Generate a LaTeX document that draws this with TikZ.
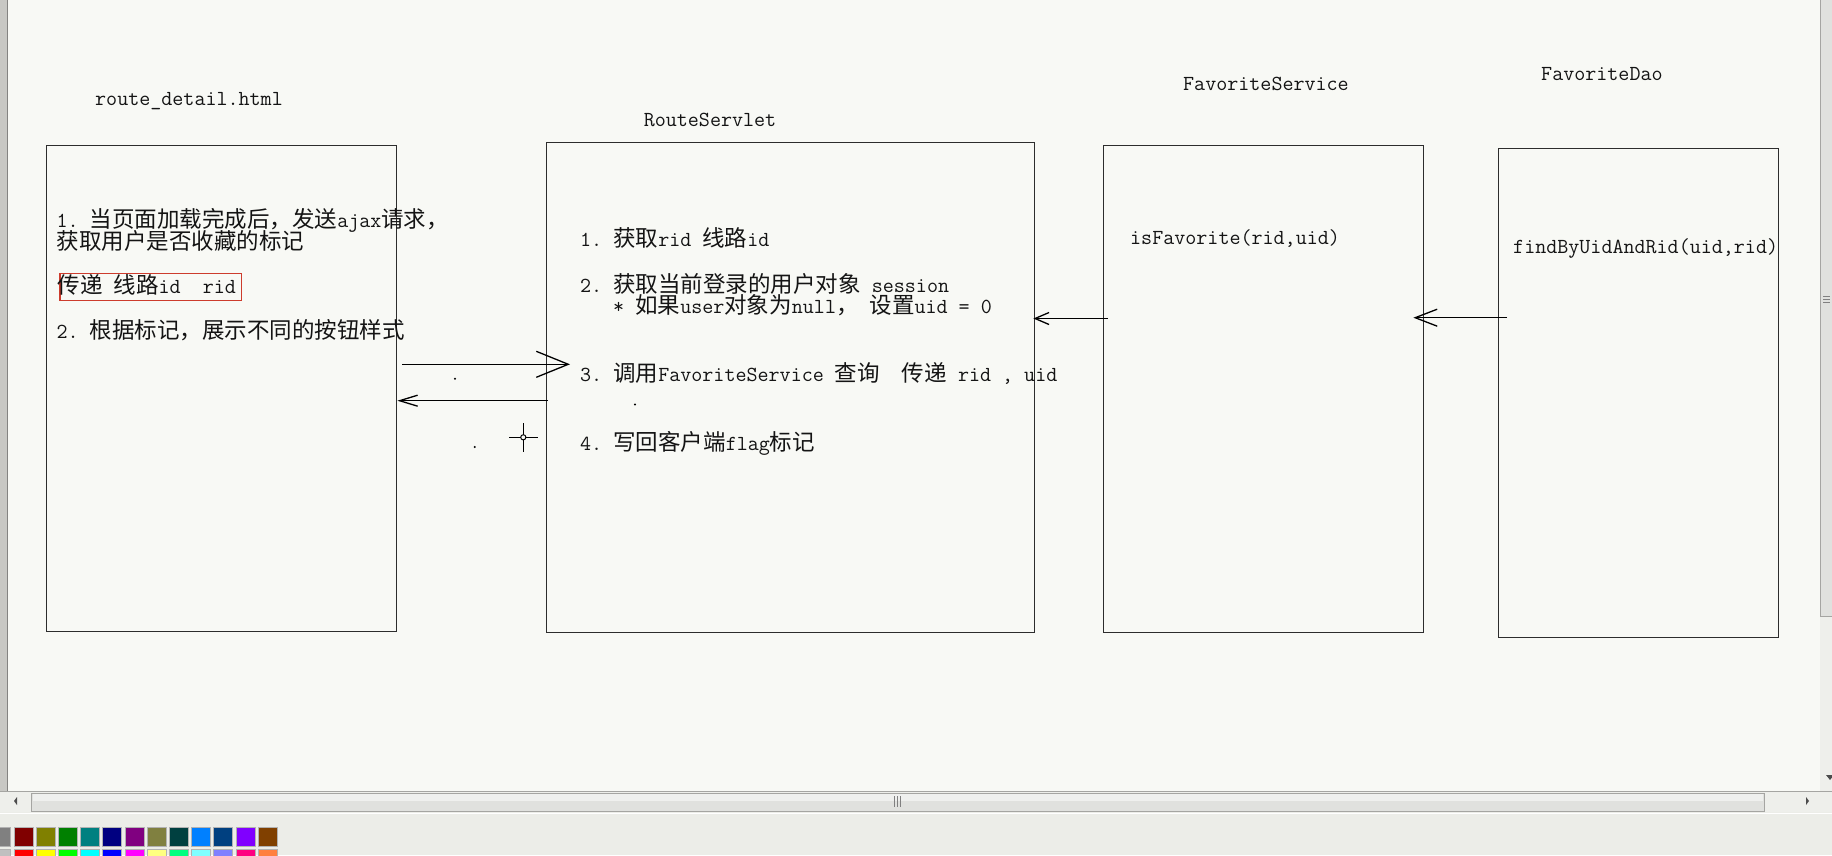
\documentclass[tikz,border=0pt]{standalone}
\usepackage{fontspec}
\newfontfamily\cjk{Noto Sans CJK SC}
\usetikzlibrary{arrows.meta,calc}
\frenchspacing
\newcommand\zh[1]{{\fontsize{22.5}{26}\selectfont\cjk #1}}
\definecolor{canvas}{RGB}{248,249,245}
\definecolor{boxc}{RGB}{45,45,45}
\definecolor{redc}{RGB}{205,60,45}
\definecolor{band}{RGB}{236,237,232}
\definecolor{track}{RGB}{238,239,235}
\definecolor{thumb}{RGB}{224,225,222}
\definecolor{edge}{RGB}{165,165,162}
\definecolor{lborder}{RGB}{200,200,196}
\definecolor{inkc}{RGB}{20,20,20}
\begin{document}
\begin{tikzpicture}[x=1pt,y=-1pt,
  box/.style={draw=boxc, line width=1.4pt, anchor=north west, inner sep=0pt},
  lbl/.style={anchor=base west, inner sep=0pt, text=inkc, font=\fontsize{21.43}{24}\selectfont\ttfamily},
  arr/.style={line width=1.3pt, draw=black}]
\useasboundingbox (0,0) rectangle (1832,855);
\fill[canvas] (0,0) rectangle (1832,855);

% ---- window chrome ----
\fill[lborder] (0,0) rectangle (8,791);
\draw[line width=1.4pt, edge!80!black] (7.5,0) -- (7.5,791);
% vertical scrollbar
\fill[track] (1820,0) rectangle (1832,791);
\filldraw[fill=thumb, draw=edge, line width=0.8pt] (1820.5,-2) rectangle (1834,616);
\draw[line width=0.7pt, gray] (1823,296) -- (1830,296) (1823,299) -- (1830,299) (1823,302) -- (1830,302);
\fill[black!70] (1826,775) -- (1834,775) -- (1830,780) -- cycle;
% horizontal scrollbar
\fill[track] (0,791) rectangle (1832,812);
\draw[line width=0.8pt, edge] (0,791) -- (1832,791);
\filldraw[fill=thumb, draw=edge, line width=0.9pt] (31.5,793) rectangle (1764,811);
\fill[white, opacity=0.5] (32.5,794) rectangle (1763,801);
\draw[line width=0.7pt, gray] (894,796) -- (894,807) (897,796) -- (897,807) (900,796) -- (900,807);
\fill[black!70] (17,797) -- (17,805) -- (14,801) -- cycle;
\fill[black!70] (1806,797) -- (1806,805) -- (1809,801) -- cycle;
% bottom band and palette
\fill[band] (0,812) rectangle (1832,855);
\draw[line width=0.8pt, white] (0,813) -- (1832,813);
\foreach \i/\xa/\xb/\xc/\ya/\yb/\yc in {0/128/128/128/192/192/192, 1/128/0/0/255/0/0,
  2/128/128/0/255/255/0, 3/0/128/0/0/255/0, 4/0/128/128/0/255/255, 5/0/0/128/0/0/255,
  6/128/0/128/255/0/255, 7/128/128/64/255/255/128, 8/0/64/64/0/255/128,
  9/0/128/255/128/255/255, 10/0/64/128/128/128/255, 11/128/0/255/255/0/128,
  12/128/64/0/255/128/64}{
  \definecolor{pa}{RGB}{\xa,\xb,\xc}
  \definecolor{pb}{RGB}{\ya,\yb,\yc}
  \filldraw[fill=pa, draw=gray!60, line width=0.8pt] ({-8.2+\i*22.2},827) rectangle ++(19,19);
  \filldraw[fill=pb, draw=gray!60, line width=0.8pt] ({-8.2+\i*22.2},849) rectangle ++(19,9);
}

% ---- boxes ----
\node[box, minimum width=350.5pt, minimum height=486pt] (page) at (45.5,145) {};
\node[box, minimum width=488pt, minimum height=490pt] (servlet) at (546,142) {};
\node[box, minimum width=320pt, minimum height=487pt] (service) at (1103,145) {};
\node[box, minimum width=280pt, minimum height=489pt] (dao) at (1498,148) {};

% ---- titles ----
\node[lbl] (tpage) at (95,105) {route\_detail.html};
\node[lbl] (tservlet) at (643.6,126) {RouteServlet};
\node[lbl] (tservice) at (1183,90.7) {FavoriteService};
\node[lbl] (tdao) at (1541,80) {FavoriteDao};

% ---- page texts ----
\node[lbl] (p1) at (56.5,227) {1. \zh{当页面加载完成后，发送}ajax\zh{请求，}};
\node[lbl] (p2) at (56.5,249.5) {\zh{获取用户是否收藏的标记}};
\node[draw=redc, line width=1.3pt, anchor=north west, inner sep=0pt,
      minimum width=181.7pt, minimum height=27.3pt] (hl) at (59.3,272.7) {};
\node[lbl] (p3) at (57.4,293) {\zh{传递} \zh{线路}id~~rid};
\node[lbl] (p4) at (56.5,338.3) {2. \zh{根据标记，展示不同的按钮样式}};

% ---- servlet texts ----
\node[lbl] (s1) at (580,246.7) {1. \zh{获取}rid \zh{线路}id};
\node[lbl] (s2) at (580,292.7) {2. \zh{获取当前登录的用户对象} session};
\node[lbl] (s2b) at (613,313.3) {* \zh{如果}user\zh{对象为}null\zh{，} \zh{设置}uid = 0};
\node[lbl] (s3) at (580,381.7) {3. \zh{调用}FavoriteService \zh{查询}~~\zh{传递} rid , uid};
\node[lbl] (s4) at (580,450) {4. \zh{写回客户端}flag\zh{标记}};

% ---- service / dao texts ----
\node[lbl] (f1) at (1130,244) {isFavorite(rid,uid)};
\node[lbl] (d1) at (1513,253) {findByUidAndRid(uid,rid)};

% ---- connectors ----
\coordinate (ya) at (0,364.3);
\coordinate (yb) at (0,400.7);
\coordinate (yc) at (0,318.5);
\coordinate (yd) at (0,317.7);
\draw[arr, -{Straight Barb[length=32pt,width=26pt]}]
  ($(page.east|-ya)+(5,0)$) -- ($(servlet.west|-ya)+(24,0)$);
\draw[arr, -{Straight Barb[length=18pt,width=11pt]}]
  ($(servlet.west|-yb)+(2,0)$) -- (page.east|-yb);
\draw[arr, -{Straight Barb[length=14pt,width=12pt]}]
  ($(service.west|-yc)+(5,0)$) -- ($(servlet.east|-yc)+(-2,0)$);
\draw[arr, -{Straight Barb[length=22pt,width=17pt]}]
  ($(dao.west|-yd)+(9,0)$) -- ($(service.east|-yd)+(-11,0)$);

% ---- cursor and specks ----
\draw[line width=1.3pt] (509,437.3) -- (538,437.3) (523.3,423) -- (523.3,452);
\filldraw[fill=canvas, draw=black, line width=1pt] (523.3,437.3) circle (2.6);
\fill (455,378.7) circle (1.1);
\fill (474.7,447) circle (1.1);
\fill (635,404.5) circle (1.1);
\end{tikzpicture}
\end{document}
